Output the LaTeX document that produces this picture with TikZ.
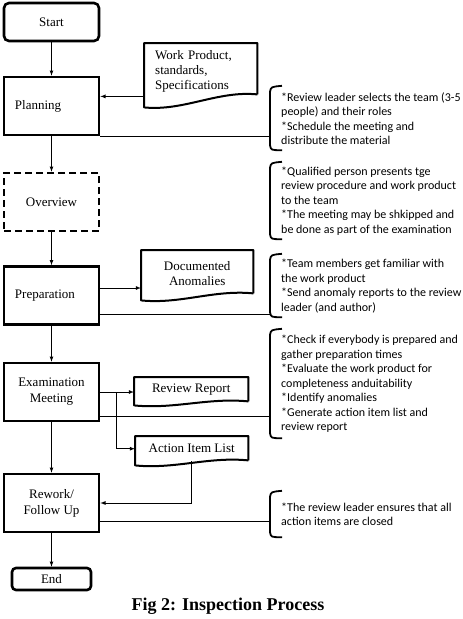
\documentclass[tikz,border=0pt]{standalone}
\usepackage{fontspec}
\setmainfont{Liberation Serif}
\newfontfamily\notefont{Carlito}
\usetikzlibrary{calc}

\tikzset{
  stepbox/.style={draw, line width=2.6pt, minimum width=95pt, minimum height=58pt,
    inner sep=3pt, font=\fontsize{13}{16}\selectfont, align=center},
  endbox/.style={stepbox, rounded corners=5pt},
  docbox/.style={inner sep=0pt, font=\fontsize{13}{15}\selectfont},
  note/.style={anchor=west, inner xsep=11pt, inner ysep=0pt, align=left,
    font=\notefont\fontsize{12}{14.5}\selectfont},
  flow/.style={line width=0.8pt, -latex},
  link/.style={line width=0.8pt},
}

% document outline with a wavy bottom: #1 node, #2 drop on the left, #3 rise on the right
\newcommand{\docframe}[3]{%
  \draw[line width=2pt, line join=round]
    ([yshift=#3pt]#1.south east) -- (#1.north east) -- (#1.north west)
    -- ([yshift=-#2pt]#1.south west)
    .. controls ($(#1.south west)!0.35!(#1.south east)+(0,#2+4)$)
            and ($(#1.south west)!0.65!(#1.south east)+(0,-#3-4)$)
    .. ([yshift=#3pt]#1.south east);}

% open bracket in front of a note
\newcommand{\bracket}[1]{%
  \draw[line width=1.8pt]
    ([xshift=12pt,yshift=1pt]#1.north west) .. controls ([xshift=1pt]#1.north west)
    .. ([yshift=-5pt]#1.north west) -- ([yshift=5pt]#1.south west)
    .. controls ([xshift=1pt]#1.south west) .. ([xshift=12pt]#1.south west);}

\begin{document}
\begin{tikzpicture}[x=1pt, y=-1pt]
  \useasboundingbox (0,0) rectangle (463,619);

  % Main flow
  \node[endbox, minimum height=38pt] (start) at (51.5,22) {Start};
  \node[stepbox, text width=73pt, align=left] (planning) at (51.5,106) {Planning};
  \node[stepbox, dash pattern=on 7pt off 4pt] (overview) at (51.5,202) {Overview};
  \node[stepbox, text width=73pt, align=left] (preparation) at (51.5,295.5) {Preparation};
  \node[stepbox] (examination) at (51.5,392) {Examination\\Meeting};
  \node[stepbox] (rework) at (51.5,503) {Rework/\\Follow Up};
  \node[endbox, minimum width=79pt, minimum height=22pt, rounded corners=4pt] (end) at (51.5,579) {End};

  \draw[flow] (start) -- (planning);
  \draw[flow] (planning) -- (overview);
  \draw[flow] (overview) -- (preparation);
  \draw[flow] (preparation) -- (examination);
  \draw[flow] (examination) -- (rework);
  \draw[flow] (rework) -- (end);

  % Documents in and out
  \node[docbox, minimum width=113pt, minimum height=57pt, text width=91pt, align=left,
    anchor=north west] (workprod) at (144,43) {Work Product,\\standards,\\Specifications};
  \node[docbox, minimum width=112pt, minimum height=46pt, text width=100pt, align=center,
    anchor=north west] (anomalies) at (141,250) {Documented\\Anomalies};
  \node[docbox, minimum width=114pt, minimum height=25pt, anchor=north west] (revreport) at (134,377) {Review Report};
  \node[docbox, minimum width=113pt, minimum height=25pt, anchor=north west] (actionlist) at (135,436) {Action Item List};
  \docframe{workprod}{7}{6}
  \docframe{anomalies}{4}{3}
  \docframe{revreport}{3}{1}
  \docframe{actionlist}{4}{1}

  \coordinate (split) at ($(examination.east)+(16,0)$);
  \draw[flow] ([yshift=4pt]workprod.south west) -- ([yshift=4pt]workprod.south west -| planning.east);
  \draw[flow] ([yshift=7.5pt]preparation.east) -- ([yshift=7.5pt]preparation.east -| anomalies.west);
  \draw[flow] (examination.east) -- (examination.east -| revreport.west);
  \draw[flow] (split) |- (actionlist.west);
  \draw[flow] (actionlist.south) |- (rework.east);

  % Notes on each step
  \node[note, minimum height=63pt] (planmemo) at (270,118.5)
    {*Review leader selects the team (3-5\\people) and their roles\\*Schedule the meeting and\\distribute the material};
  \node[note, minimum height=76pt] (overmemo) at (270,201)
    {*Qualified person presents tge\\review procedure and work product\\to the team\\*The meeting may be shkipped and\\be done as part of the examination};
  \node[note, minimum height=62pt] (prepmemo) at (270,286)
    {*Team members get familiar with\\the work product\\*Send anomaly reports to the review\\leader (and author)};
  \node[note, minimum height=108pt] (exammemo) at (270,384)
    {*Check if everybody is prepared and\\gather preparation times\\*Evaluate the work product for\\completeness anduitability\\*Identify anomalies\\*Generate action item list and\\review report};
  \node[note, minimum height=45pt] (reworkmemo) at (270,514.5)
    {*The review leader ensures that all\\action items are closed};
  \bracket{planmemo}
  \bracket{overmemo}
  \bracket{prepmemo}
  \bracket{exammemo}
  \bracket{reworkmemo}

  \draw[link] (planning.south east) -- (planning.south east -| planmemo.west);
  \draw[link] ([yshift=11pt]preparation.south east) -- ([yshift=11pt]preparation.south east -| prepmemo.west);
  \draw[link] ([yshift=6pt]examination.south east) -- ([yshift=6pt]examination.south east -| exammemo.west);
  \draw[link] ([yshift=-18pt]rework.east) -- ([yshift=-18pt]rework.east -| reworkmemo.west);

  % Caption
  \node[anchor=base, font=\bfseries\fontsize{18}{20}\selectfont] (caption) at (228,610) {Fig 2: Inspection Process};
\end{tikzpicture}
\end{document}
